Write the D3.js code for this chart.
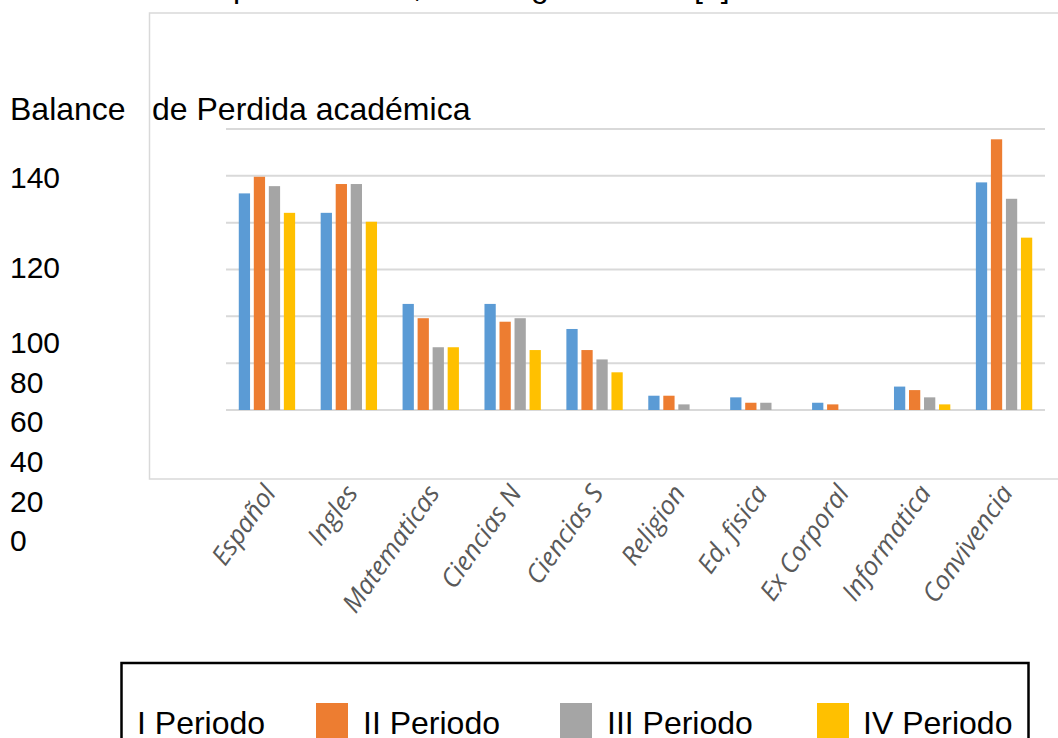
<!DOCTYPE html>
<html>
<head>
<meta charset="utf-8">
<script src="https://cdn.jsdelivr.net/npm/d3@7/dist/d3.min.js"></script>
<style>
  html, body { margin: 0; padding: 0; background: #fff; }
  svg { display: block; }
</style>
</head>
<body>
<svg id="chart" width="1058" height="738"></svg>
<script>
// ---- Data ----
const categories = ["Español", "Ingles", "Matematicas", "Ciencias N", "Ciencias S", "Religion", "Ed, fisica", "Ex Corporal", "Informatica", "Convivencia"];
const series = ["I Periodo", "II Periodo", "III Periodo", "IV Periodo"];
const periodo1 = [92.5, 84.2, 45.3, 45.3, 34.6, 6.1, 5.4, 3.1, 10.0, 97.2];
const periodo2 = [99.6, 96.5, 39.2, 37.7, 25.6, 6.1, 3.1, 2.4, 8.5, 115.6];
const periodo3 = [95.6, 96.5, 26.8, 39.2, 21.6, 2.4, 3.1, 0, 5.4, 90.2];
const periodo4 = [84.2, 80.4, 26.8, 25.6, 16.1, 0, 0, 0, 2.4, 73.6];
const gridTicks = [0, 20, 40, 60, 80, 100, 120];
const sideLabels = ["140", "120", "100", "80", "60", "40", "20", "0"];
const colors = ["#5b9bd5", "#ed7d31", "#a5a5a5", "#ffc000"];

const values = [periodo1, periodo2, periodo3, periodo4];
const rows = categories.map((c, i) => ({ cat: c, vals: series.map((s, j) => ({ s, v: values[j][i], j })) }));

const svg = d3.select("#chart");
const font = "'Liberation Sans', Arial, sans-serif";

// clipped line of text above the chart (only descenders visible, as in the reference)
const topText = svg.append("text").attr("y", -3).attr("font-family", font).attr("font-size", 32).attr("fill", "#000");
[["p", 233], [",", 413], ["g", 531], ["[1]", 694]].forEach(([t, x]) => topText.append("tspan").attr("x", x).text(t));

// chart area frame
svg.append("rect").attr("x", 149.5).attr("y", 13).attr("width", 1000).attr("height", 466)
  .attr("fill", "none").attr("stroke", "#d9d9d9").attr("stroke-width", 1.5);

// title
svg.append("text").attr("x", 10).attr("y", 120).attr("font-family", font).attr("font-size", 32)
  .attr("fill", "#000").text("Balance");
svg.append("text").attr("x", 152).attr("y", 120).attr("font-family", font).attr("font-size", 32)
  .attr("fill", "#000").text("de Perdida académica");

// side labels (document text)
const sideY = [188, 278, 353, 393, 432, 472, 512, 551];
svg.append("g").selectAll("text").data(sideLabels).join("text")
  .attr("x", 10).attr("y", (d, i) => sideY[i])
  .attr("font-family", font).attr("font-size", 30).attr("fill", "#000").text(d => d);

// scales
const x0 = d3.scaleBand().domain(categories).range([226, 1045]);
const groupW = x0.bandwidth() * 0.688;
const x1 = d3.scaleBand().domain(series).range([0, groupW]).paddingInner(0.25);
const y = d3.scaleLinear().domain([0, 120]).range([410, 129]);

// gridlines
svg.append("g").selectAll("line").data(gridTicks).join("line")
  .attr("x1", 226).attr("x2", 1045)
  .attr("y1", d => y(d)).attr("y2", d => y(d))
  .attr("stroke", "#d9d9d9").attr("stroke-width", 2);

// bars
const g = svg.append("g").selectAll("g").data(rows).join("g")
  .attr("transform", d => `translate(${x0(d.cat) + (x0.bandwidth() - groupW) / 2},0)`);
g.selectAll("rect").data(d => d.vals.filter(v => v.v > 0)).join("rect")
  .attr("x", d => x1(d.s)).attr("width", x1.bandwidth())
  .attr("y", d => y(d.v)).attr("height", d => y(0) - y(d.v))
  .attr("fill", d => colors[d.j]);

// x axis labels
svg.append("g").selectAll("text").data(categories).join("text")
  .attr("transform", d => `translate(${x0(d) + x0.bandwidth() / 2 + 10},493) rotate(-55)`)
  .attr("text-anchor", "end")
  .attr("font-family", "'Open Sans', sans-serif").attr("font-style", "italic")
  .attr("font-size", 26).attr("fill", "#595959").text(d => d);

// legend
svg.append("rect").attr("x", 121.5).attr("y", 663).attr("width", 907).attr("height", 120)
  .attr("fill", "none").attr("stroke", "#000").attr("stroke-width", 2.5);
const legX = [137, 363, 607, 863];
const legSq = [null, 316, 560, 817];
series.forEach((s, i) => {
  if (legSq[i] !== null) {
    svg.append("rect").attr("x", legSq[i]).attr("y", 703).attr("width", 32).attr("height", 40).attr("fill", colors[i]);
  }
  svg.append("text").attr("x", legX[i]).attr("y", 734).attr("font-family", font).attr("font-size", 32)
    .attr("fill", "#000").text(s);
});
</script>
</body>
</html>
